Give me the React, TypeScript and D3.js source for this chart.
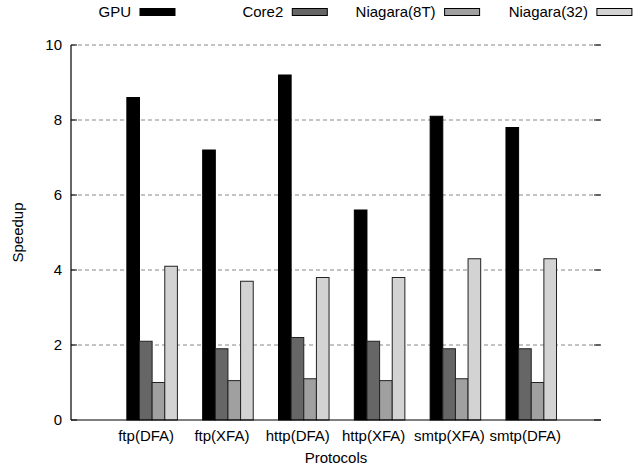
import React, {useEffect, useRef} from 'react';
import * as d3 from 'd3';

// chart data
const protocols = ['ftp(DFA)', 'ftp(XFA)', 'http(DFA)', 'http(XFA)', 'smtp(XFA)', 'smtp(DFA)'];
const seriesNames = ['GPU', 'Core2', 'Niagara(8T)', 'Niagara(32)'];
const gpu = [8.6, 7.2, 9.2, 5.6, 8.1, 7.8];
const core2 = [2.1, 1.9, 2.2, 2.1, 1.9, 1.9];
const niagara8t = [1.0, 1.05, 1.1, 1.05, 1.1, 1.0];
const niagara32 = [4.1, 3.7, 3.8, 3.8, 4.3, 4.3];
const yTicks = [0, 2, 4, 6, 8, 10];

const colors = ['#000000', '#666666', '#a0a0a0', '#d3d3d3'];

const draw = (node: SVGSVGElement) => {
    const svg = d3.select(node);
    svg.selectAll('*').remove();

    const width = 643, height = 468;
    const margin = {top: 45, right: 42, bottom: 48, left: 71};
    const font = '"Liberation Sans", Arial, Helvetica, sans-serif';
    const fs = '15px';
    const series = [gpu, core2, niagara8t, niagara32];

    // cluster index -> pixel
    const x = d3.scaleLinear()
        .domain([-1.07, 5.92])
        .range([margin.left, width - margin.right]);
    const y = d3.scaleLinear()
        .domain([0, 10])
        .range([height - margin.bottom, margin.top]);

    const bw = (x(1) - x(0)) / 6; // 4 bars + gap of 2

    // grid lines
    svg.append('g')
        .selectAll('line')
        .data(yTicks.filter(d => d > 0))
        .enter()
        .append('line')
        .attr('x1', margin.left)
        .attr('x2', width - margin.right)
        .attr('y1', d => y(d))
        .attr('y2', d => y(d))
        .attr('stroke', '#888888')
        .attr('stroke-width', 1)
        .attr('stroke-dasharray', '4,3');

    // bars
    series.forEach((vals, j) => {
        svg.append('g')
            .selectAll('rect')
            .data(vals)
            .enter()
            .append('rect')
            .attr('x', (d, i) => x(i) + (j - 2) * bw)
            .attr('y', d => y(d))
            .attr('width', bw)
            .attr('height', d => y(0) - y(d))
            .attr('fill', colors[j])
            .attr('stroke', j === 0 ? '#000' : '#222')
            .attr('stroke-width', 1);
    });

    // axes (left + bottom only, gnuplot-ish)
    svg.append('line')
        .attr('x1', margin.left).attr('x2', margin.left)
        .attr('y1', y(10)).attr('y2', y(0))
        .attr('stroke', '#000').attr('stroke-width', 1.2);
    svg.append('line')
        .attr('x1', margin.left).attr('x2', width - margin.right)
        .attr('y1', y(0)).attr('y2', y(0))
        .attr('stroke', '#000').attr('stroke-width', 1.2);

    // ticks: inward on left, mirrored on right
    const tk = svg.append('g');
    yTicks.forEach(t => {
        tk.append('line')
            .attr('x1', margin.left).attr('x2', margin.left + 6)
            .attr('y1', y(t)).attr('y2', y(t))
            .attr('stroke', '#000');
        tk.append('line')
            .attr('x1', width - margin.right - 7).attr('x2', width - margin.right)
            .attr('y1', y(t)).attr('y2', y(t))
            .attr('stroke', '#000');
        tk.append('text')
            .attr('x', margin.left - 9)
            .attr('y', y(t))
            .attr('dy', '0.36em')
            .attr('text-anchor', 'end')
            .style('font-family', font)
            .style('font-size', fs)
            .text(t);
    });

    // category labels
    svg.append('g')
        .selectAll('text')
        .data(protocols)
        .enter()
        .append('text')
        .attr('x', (d, i) => x(i) - 6)
        .attr('y', y(0) + 21)
        .attr('text-anchor', 'middle')
        .style('font-family', font)
        .style('font-size', fs)
        .text(d => d);

    svg.append('text')
        .attr('x', (margin.left + width - margin.right) / 2)
        .attr('y', height - 5)
        .attr('text-anchor', 'middle')
        .style('font-family', font)
        .style('font-size', fs)
        .text('Protocols');

    svg.append('text')
        .attr('transform', 'translate(23,' + (margin.top + y(0)) / 2 + ') rotate(-90)')
        .attr('text-anchor', 'middle')
        .style('font-family', font)
        .style('font-size', fs)
        .text('Speedup');

    // legend across the top
    const lg = svg.append('g');
    seriesNames.forEach((name, j) => {
        const sx = 140 + j * 152.3;
        lg.append('rect')
            .attr('x', sx).attr('y', 8.5)
            .attr('width', 35).attr('height', 7)
            .attr('fill', colors[j])
            .attr('stroke', '#000').attr('stroke-width', 1);
        lg.append('text')
            .attr('x', sx - 9)
            .attr('y', 12)
            .attr('dy', '0.36em')
            .attr('text-anchor', 'end')
            .style('font-family', font)
            .style('font-size', fs)
            .text(name);
    });
};

const App = () => {
    const ref = useRef<SVGSVGElement>(null);
    useEffect(() => {
        if (ref.current) draw(ref.current);
    }, []);
    return (
        <div style={{position: 'absolute', left: 0, top: 0}}>
            <svg ref={ref} width={643} height={468} style={{display: 'block', background: '#fff'}}/>
        </div>
    );
};

export default App;
